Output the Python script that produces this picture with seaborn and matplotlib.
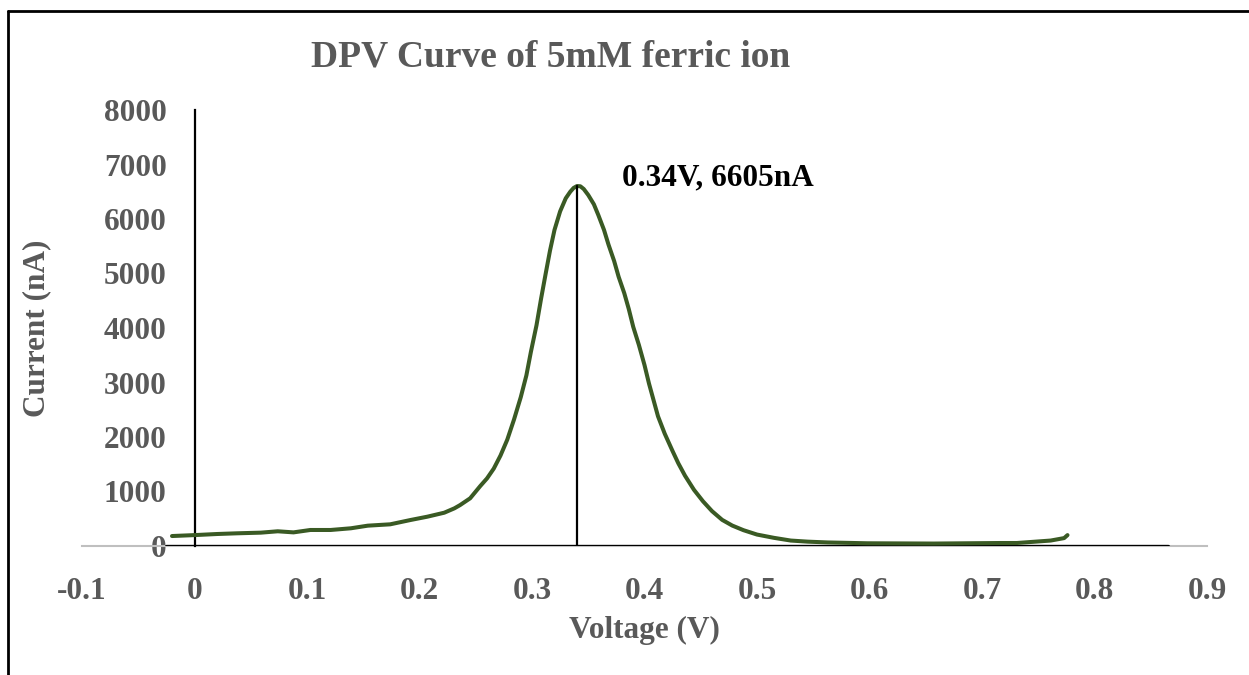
import matplotlib
matplotlib.use("Agg")
import matplotlib.pyplot as plt
import seaborn as sns
import pandas as pd
from matplotlib.lines import Line2D

# DPV scan: potential (V) vs. current (nA)
voltage = [-0.020, 0.000, 0.020, 0.038, 0.059, 0.074, 0.088, 0.103, 0.121, 0.139,
           0.154, 0.174, 0.192, 0.207, 0.222, 0.231, 0.236, 0.245, 0.254, 0.260,
           0.266, 0.272, 0.278, 0.284, 0.290, 0.295, 0.299, 0.304, 0.308, 0.312,
           0.316, 0.320, 0.325, 0.330, 0.334, 0.337, 0.340, 0.343, 0.346, 0.350,
           0.355, 0.359, 0.364, 0.368, 0.373, 0.377, 0.382, 0.386, 0.390, 0.395,
           0.400, 0.404, 0.408, 0.412, 0.418, 0.425, 0.430, 0.436, 0.444, 0.452,
           0.460, 0.469, 0.478, 0.488, 0.500, 0.515, 0.530, 0.545, 0.563, 0.598,
           0.657, 0.716, 0.731, 0.761, 0.773, 0.776]
current = [183, 200, 220, 233, 245, 270, 250, 294, 294, 325,
           373, 398, 477, 538, 611, 691, 750, 875, 1100, 1240,
           1420, 1660, 1950, 2320, 2730, 3130, 3560, 4050, 4530, 4980,
           5420, 5800, 6140, 6380, 6500, 6570, 6605, 6600, 6550, 6440,
           6270, 6070, 5800, 5530, 5230, 4940, 4640, 4350, 4020, 3690,
           3320, 2980, 2680, 2380, 2060, 1740, 1520, 1290, 1030, 820,
           640, 480, 375, 290, 210, 150, 100, 80, 65, 50,
           45, 55, 55, 100, 145, 200]

# zero-current reference line
baseline_v = [-0.025, 0.865]
baseline_i = [0, 0]

# peak marker
peak_v = 0.34
peak_i = 6605
peak_label = "0.34V, 6605nA"

title = "DPV Curve of 5mM ferric ion"
xlabel = "Voltage (V)"
ylabel = "Current (nA)"
xticks = [-0.1, 0, 0.1, 0.2, 0.3, 0.4, 0.5, 0.6, 0.7, 0.8, 0.9]
xtick_labels = ["-0.1", "0", "0.1", "0.2", "0.3", "0.4", "0.5", "0.6", "0.7", "0.8", "0.9"]
yticks = [0, 1000, 2000, 3000, 4000, 5000, 6000, 7000, 8000]

sns.set_style("white")
plt.rcParams["font.family"] = ["Liberation Serif", "DejaVu Serif"]
plt.rcParams["font.weight"] = "bold"

GRAY_TXT = "#595959"
GREEN = "#3A5A24"

fig = plt.figure(figsize=(12.49, 6.75), dpi=100)
ax = fig.add_axes([82 / 1249, 1 - 546 / 675, (1207 - 82) / 1249, (546 - 110) / 675])

df = pd.DataFrame({"Voltage": voltage, "Current": current})
base = pd.DataFrame({"Voltage": baseline_v, "Current": baseline_i})
peak = pd.DataFrame({"Voltage": [peak_v, peak_v], "Current": [0, peak_i]})

sns.lineplot(data=base, x="Voltage", y="Current", ax=ax, color="black",
             linewidth=2.4, sort=False, estimator=None, zorder=3)
line_ax = sns.lineplot(data=df, x="Voltage", y="Current", ax=ax, color=GREEN,
                       linewidth=2.9, sort=False, estimator=None, zorder=4)
line_ax.lines[-1].set_solid_joinstyle("round")
line_ax.lines[-1].set_solid_capstyle("round")
sns.lineplot(data=peak, x="Voltage", y="Current", ax=ax, color="black",
             linewidth=1.6, sort=False, estimator=None, zorder=5)

ax.set_xlim(-0.1, 0.9)
ax.set_ylim(0, 8000)

# axes: gray horizontal axis at y=0, black vertical axis at x=0
for s in ["top", "right"]:
    ax.spines[s].set_visible(False)
ax.spines["left"].set_position(("data", 0))
ax.spines["left"].set_color("black")
ax.spines["left"].set_linewidth(1.6)
ax.spines["bottom"].set_color("#BFBFBF")
ax.spines["bottom"].set_linewidth(1.5)
ax.spines["bottom"].set_zorder(1)

ax.set_xticks(xticks)
ax.set_xticklabels(xtick_labels)
ax.set_yticks(yticks)
ax.tick_params(axis="x", direction="in", length=7, width=1.2, color="#BFBFBF",
               labelsize=22.5, labelcolor=GRAY_TXT, pad=22)
ax.tick_params(axis="y", direction="in", length=7, width=1.6, color="black",
               labelsize=22.5, labelcolor=GRAY_TXT, pad=20)
for lab in ax.get_xticklabels() + ax.get_yticklabels():
    lab.set_fontweight("bold")

ax.set_xlabel("")
ax.set_ylabel("")
ax.text(0.3796, 6750, peak_label, ha="left", va="center", fontsize=22.5,
        fontweight="bold", color="black")

fig.text(551 / 1249, 1 - 57 / 675, title, ha="center", va="center",
         fontsize=27, fontweight="bold", color=GRAY_TXT)
fig.text(644 / 1249, 1 - 630 / 675, xlabel, ha="center", va="center",
         fontsize=22.5, fontweight="bold", color=GRAY_TXT)
fig.text(37 / 1249, 1 - 328 / 675, ylabel, ha="center", va="center",
         rotation=90, fontsize=22.5, fontweight="bold", color=GRAY_TXT)

# chart frame
fig.add_artist(Line2D([8 / 1249, 8 / 1249], [0, 1 - 10.5 / 675],
                      transform=fig.transFigure, color="black", linewidth=2))
fig.add_artist(Line2D([8 / 1249, 1.0], [1 - 10.5 / 675, 1 - 10.5 / 675],
                      transform=fig.transFigure, color="black", linewidth=2))

fig.savefig("out.png", dpi=100, facecolor="white")
